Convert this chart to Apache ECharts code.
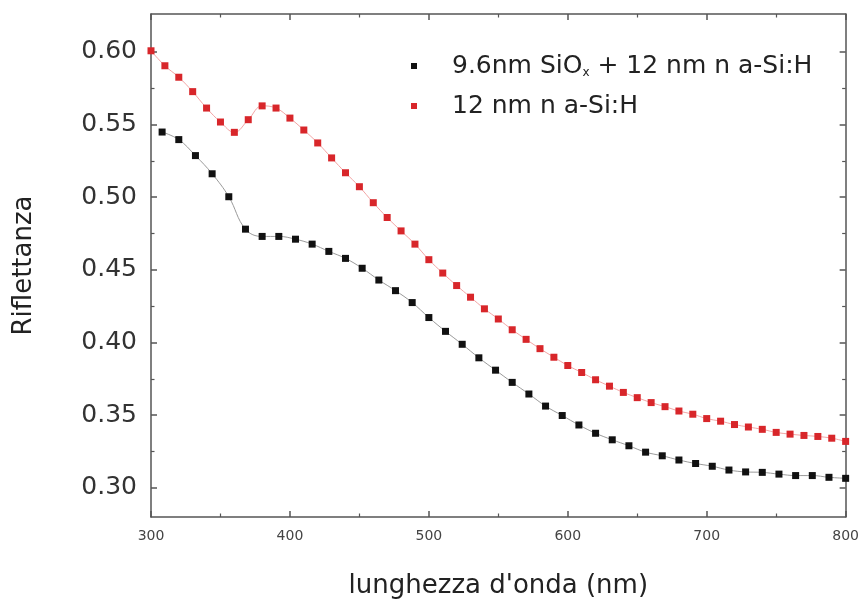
<!DOCTYPE html>
<html>
<head>
<meta charset="utf-8">
<script src="https://cdn.jsdelivr.net/npm/echarts@6/dist/echarts.min.js"></script>
<style>html,body{margin:0;padding:0;background:#fff}#c{width:862px;height:604px}</style>
</head>
<body>
<div id="c"></div>
<script>
// Series 1: 9.6nm SiOx + 12 nm n a-Si:H (black)
const blackWavelength = [308,320,332,344,356,368,380,392,404,416,428,440,452,464,476,488,500,512,524,536,548,560,572,584,596,608,620,632,644,656,668,680,692,704,716,728,740,752,764,776,788,800];
const blackReflectance = [0.5448,0.5396,0.5286,0.5161,0.5003,0.4780,0.4730,0.4730,0.4711,0.4677,0.4627,0.4579,0.4511,0.4430,0.4357,0.4275,0.4172,0.4077,0.3988,0.3895,0.3810,0.3726,0.3646,0.3563,0.3498,0.3433,0.3376,0.3331,0.3290,0.3246,0.3221,0.3192,0.3168,0.3149,0.3123,0.3110,0.3107,0.3095,0.3085,0.3085,0.3073,0.3066];
// Series 2: 12 nm n a-Si:H (red)
const redWavelength = [300,310,320,330,340,350,360,370,380,390,400,410,420,430,440,450,460,470,480,490,500,510,520,530,540,550,560,570,580,590,600,610,620,630,640,650,660,670,680,690,700,710,720,730,740,750,760,770,780,790,800];
const redReflectance = [0.6007,0.5904,0.5825,0.5726,0.5613,0.5517,0.5446,0.5533,0.5628,0.5613,0.5544,0.5462,0.5373,0.5270,0.5168,0.5072,0.4962,0.4860,0.4768,0.4677,0.4570,0.4478,0.4392,0.4312,0.4232,0.4162,0.4088,0.4022,0.3958,0.3899,0.3842,0.3794,0.3744,0.3700,0.3657,0.3621,0.3587,0.3559,0.3529,0.3507,0.3477,0.3459,0.3436,0.3419,0.3403,0.3382,0.3370,0.3361,0.3354,0.3342,0.3320];
const seriesNames = ['9.6nm SiOx + 12 nm n a-Si:H', '12 nm n a-Si:H'];
const yMajorTicks = [0.30,0.35,0.40,0.45,0.50,0.55,0.60];
const yMinorTicks = [0.325,0.375,0.425,0.475,0.525,0.575];
const xTitle = "lunghezza d'onda (nm)";
const yTitle = 'Riflettanza';

const FONT = 'DejaVu Sans';
const AX = '#555';
const yMin = 0.28, yMax = 0.626;

function pairs(xs, ys){ return xs.map((x,i)=>[x, ys[i]]); }

const chart = echarts.init(document.getElementById('c'), null, {renderer:'canvas'});

const baseY = {
  type:'value', min:yMin, max:yMax, splitLine:{show:false},
  axisLine:{show:true, lineStyle:{color:AX, width:1.5}},
};
chart.setOption({
  animation:false,
  backgroundColor:'#fff',
  grid:{left:151, right:16, top:14, bottom:86, containLabel:false},
  legend:{
    orient:'vertical', left:406, top:47, itemGap:12,
    icon:'rect', itemWidth:6, itemHeight:6,
    data: seriesNames,
    formatter: function(n){ return n === seriesNames[0] ? '9.6nm SiO{sub|x} + 12 nm n a-Si:H' : n; },
    textStyle:{fontFamily:FONT, fontSize:25, color:'#222', lineHeight:28, padding:[0,0,0,30],
      rich:{sub:{fontFamily:FONT, fontSize:12, color:'#222', lineHeight:28, padding:[14,0,0,0]}}}
  },
  xAxis:[
    {type:'value', position:'bottom', min:300, max:800, interval:100,
     name:xTitle, nameLocation:'middle', nameGap:56,
     nameTextStyle:{fontFamily:FONT, fontSize:26, color:'#222'},
     axisLine:{show:true, onZero:false, lineStyle:{color:AX, width:1.5}},
     axisTick:{show:true, inside:true, length:6, lineStyle:{color:AX, width:1.5}},
     minorTick:{show:true, splitNumber:2, length:3.5, lineStyle:{color:AX, width:1.2}},
     axisLabel:{fontFamily:FONT, fontSize:14, color:'#444', margin:12},
     splitLine:{show:false}},
    {type:'value', position:'top', min:300, max:800, interval:100,
     axisLine:{show:true, onZero:false, lineStyle:{color:AX, width:1.5}},
     axisTick:{show:true, inside:true, length:6, lineStyle:{color:AX, width:1.5}},
     minorTick:{show:true, splitNumber:2, length:3.5, lineStyle:{color:AX, width:1.2}},
     axisLabel:{show:false}, splitLine:{show:false}}
  ],
  yAxis:[
    Object.assign({}, baseY, {position:'left',
      name:yTitle, nameLocation:'middle', nameGap:114, nameRotate:90,
      nameTextStyle:{fontFamily:FONT, fontSize:26, color:'#222'},
      axisTick:{show:true, inside:true, length:6, customValues:yMajorTicks, lineStyle:{color:AX, width:1.5}},
      axisLabel:{show:true, customValues:yMajorTicks, fontFamily:FONT, fontSize:25, color:'#333', margin:14,
        formatter:(v)=>v.toFixed(2)}}),
    Object.assign({}, baseY, {position:'right',
      axisTick:{show:true, inside:true, length:6, customValues:yMajorTicks, lineStyle:{color:AX, width:1.5}},
      axisLabel:{show:false}}),
    Object.assign({}, baseY, {position:'left', axisLine:{show:false},
      axisTick:{show:true, inside:true, length:3.5, customValues:yMinorTicks, lineStyle:{color:AX, width:1.2}},
      axisLabel:{show:false}}),
    Object.assign({}, baseY, {position:'right', axisLine:{show:false},
      axisTick:{show:true, inside:true, length:3.5, customValues:yMinorTicks, lineStyle:{color:AX, width:1.2}},
      axisLabel:{show:false}})
  ],
  series:[
    {name:seriesNames[1], type:'line', xAxisIndex:0, yAxisIndex:0,
     data:pairs(redWavelength, redReflectance), smooth:0.4,
     symbol:'rect', symbolSize:7, showAllSymbol:true,
     itemStyle:{color:'#d8262a'}, lineStyle:{color:'#f3a5a5', width:1}},
    {name:seriesNames[0], type:'line', xAxisIndex:0, yAxisIndex:0,
     data:pairs(blackWavelength, blackReflectance), smooth:0.4,
     symbol:'rect', symbolSize:7, showAllSymbol:true,
     itemStyle:{color:'#111'}, lineStyle:{color:'#9a9a9a', width:1}}
  ]
});
</script>
</body>
</html>
